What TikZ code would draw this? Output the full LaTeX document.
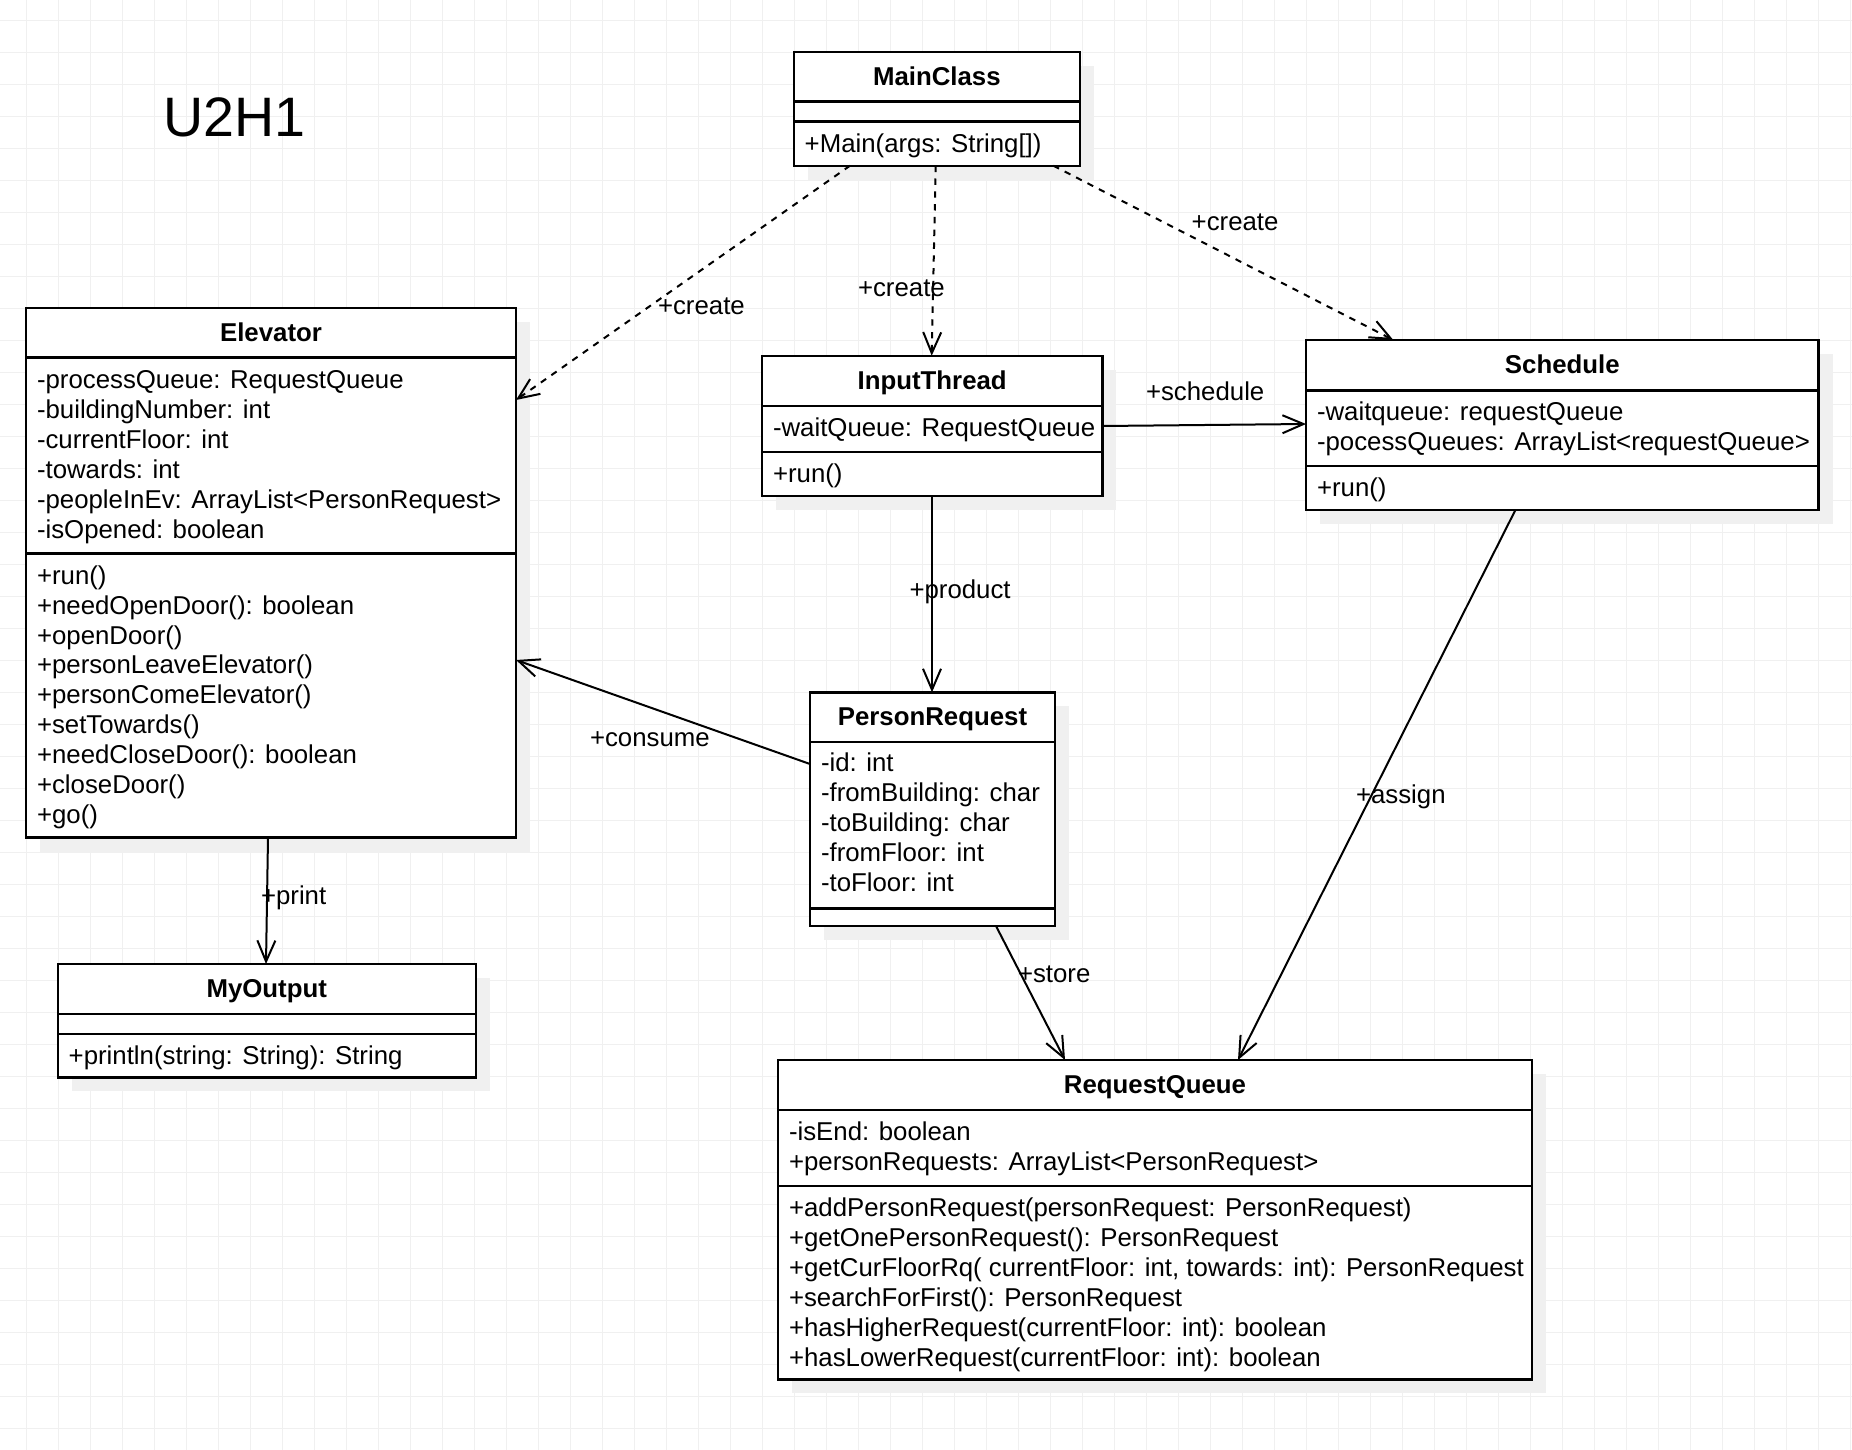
\documentclass[tikz,border=0pt]{standalone}
\usepackage{fontspec}
\setmainfont{Liberation Sans}
\usetikzlibrary{arrows.meta,calc,fit,shadows}

\begin{document}
\begin{tikzpicture}[x=0.5pt,y=-0.5pt,
  base/.style={font=\fontsize{12.9pt}{15pt}\selectfont, inner sep=0pt, outer sep=0pt},
  classbox/.style={draw=black, line width=1.2pt, fill=white, inner sep=0pt, outer sep=0pt,
    drop shadow={shadow xshift=7pt, shadow yshift=-7pt, fill=black!6, opacity=1}},
  sepline/.style={line width=1.2pt},
  hdr/.style={base, font=\fontsize{12.9pt}{15pt}\selectfont\bfseries, anchor=base},
  row/.style={base, anchor=base west},
  lbl/.style={base, anchor=base west},
  conn/.style={line width=1pt, -{Straight Barb[length=10.5pt, width=9pt, line width=1pt]}},
  dep/.style={conn, dash pattern=on 3.2pt off 3.2pt},
  gridline/.style={line width=0.6pt, black!6}
]
% canvas
\fill[white] (0,0) rectangle (1852,1450);
\useasboundingbox (0,0) rectangle (1852,1450);
\foreach \i in {0,...,57} \draw[gridline] ({26.8+32*\i},0) -- ++(0,1450);
\foreach \j in {0,...,44} \draw[gridline] (0,{20.5+32*\j}) -- ++(1852,0);

% title
\node[base, anchor=base west, font=\fontsize{27.8pt}{32pt}\selectfont] (title) at (163.5,137) {U2H1};

% class boxes
\node[classbox, fit={(793.7,52) (1080,165.7)}] (main) {};
\node[classbox, fit={(26,308) (516,837.5)}] (elev) {};
\node[classbox, fit={(762,355.7) (1102.3,495.7)}] (input) {};
\node[classbox, fit={(1306,340) (1818.6,510)}] (sched) {};
\node[classbox, fit={(810,692.3) (1055,926)}] (person) {};
\node[classbox, fit={(778,1060) (1532,1379.3)}] (rq) {};
\node[classbox, fit={(57.7,964) (475.7,1077.3)}] (myout) {};

% separators
\draw[sepline] ($(main.north west)+(0,49.7)$) -- ($(main.north east)+(0,49.7)$);
\draw[sepline] ($(main.north west)+(0,69.7)$) -- ($(main.north east)+(0,69.7)$);
\draw[sepline] ($(elev.north west)+(0,49.5)$) -- ($(elev.north east)+(0,49.5)$);
\draw[sepline] ($(elev.north west)+(0,245.6)$) -- ($(elev.north east)+(0,245.6)$);
\draw[sepline] ($(input.north west)+(0,50)$) -- ($(input.north east)+(0,50)$);
\draw[sepline] ($(input.north west)+(0,96)$) -- ($(input.north east)+(0,96)$);
\draw[sepline] ($(sched.north west)+(0,50.3)$) -- ($(sched.north east)+(0,50.3)$);
\draw[sepline] ($(sched.north west)+(0,126)$) -- ($(sched.north east)+(0,126)$);
\draw[sepline] ($(person.north west)+(0,49.4)$) -- ($(person.north east)+(0,49.4)$);
\draw[sepline] ($(person.north west)+(0,216)$) -- ($(person.north east)+(0,216)$);
\draw[sepline] ($(rq.north west)+(0,50)$) -- ($(rq.north east)+(0,50)$);
\draw[sepline] ($(rq.north west)+(0,125.7)$) -- ($(rq.north east)+(0,125.7)$);
\draw[sepline] ($(myout.north west)+(0,49.7)$) -- ($(myout.north east)+(0,49.7)$);
\draw[sepline] ($(myout.north west)+(0,70)$) -- ($(myout.north east)+(0,70)$);

% headers
\node[hdr] (mainT) at ($(main.north)+(0,33.4)$) {MainClass};
\node[hdr] (elevT) at ($(elev.north)+(0,33.4)$) {Elevator};
\node[hdr] (inputT) at ($(input.north)+(0,33.4)$) {InputThread};
\node[hdr] (schedT) at ($(sched.north)+(0,33.4)$) {Schedule};
\node[hdr] (personT) at ($(person.north)+(0,33.4)$) {PersonRequest};
\node[hdr] (rqT) at ($(rq.north)+(0,33.4)$) {RequestQueue};
\node[hdr] (myoutT) at ($(myout.north)+(0,33.4)$) {MyOutput};

% MainClass
\node[row] (mainM0) at (804.7,152.2) {+Main(args: String[])};

% Elevator
\foreach \t [count=\i from 0] in {{-processQueue: RequestQueue},{-buildingNumber: int},{-currentFloor: int},{-towards: int},{-peopleInEv: ArrayList<PersonRequest>},{-isOpened: boolean}}
  \node[row] (elevA\i) at (37,{388+30*\i}) {\t};
\foreach \t [count=\i from 0] in {{+run()},{+needOpenDoor(): boolean},{+openDoor()},{+personLeaveElevator()},{+personComeElevator()},{+setTowards()},{+needCloseDoor(): boolean},{+closeDoor()},{+go()}}
  \node[row] (elevM\i) at (37,{584.1+29.95*\i}) {\t};

% InputThread
\node[row] (inputA0) at (773,436.2) {-waitQueue: RequestQueue};
\node[row] (inputM0) at (773,482.2) {+run()};

% Schedule
\node[row] (schedA0) at (1317,420.8) {-waitqueue: requestQueue};
\node[row] (schedA1) at (1317,450.8) {-pocessQueues: ArrayList<requestQueue>};
\node[row] (schedM0) at (1317,496.5) {+run()};

% PersonRequest
\foreach \t [count=\i from 0] in {{-id: int},{-fromBuilding: char},{-toBuilding: char},{-fromFloor: int},{-toFloor: int}}
  \node[row] (personA\i) at (821,{771.5+30*\i}) {\t};

% RequestQueue
\node[row] (rqA0) at (789,1140.5) {-isEnd: boolean};
\node[row] (rqA1) at (789,1170.5) {+personRequests: ArrayList<PersonRequest>};
\foreach \t [count=\i from 0] in {{+addPersonRequest(personRequest: PersonRequest)},{+getOnePersonRequest(): PersonRequest},{+getCurFloorRq( currentFloor: int, towards: int): PersonRequest},{+searchForFirst(): PersonRequest},{+hasHigherRequest(currentFloor: int): boolean},{+hasLowerRequest(currentFloor: int): boolean}}
  \node[row] (rqM\i) at (789,{1216.2+30*\i}) {\t};

% MyOutput
\node[row] (myoutM0) at (68.7,1064.5) {+println(string: String): String};

% connectors
\draw[dep] ($(main.south west)+(56.3,0)$) -- ($(elev.north east)+(0,92)$);
\draw[dep] ($(main.south west)+(142,0)$) -- ($(input.north west)+(169.7,0)$);
\draw[dep] ($(main.south west)+(259.6,0)$) -- ($(sched.north west)+(87.3,0)$);
\draw[conn] ($(input.north east)+(0,70.3)$) -- ($(sched.north west)+(0,84)$);
\draw[conn] ($(input.south west)+(170,0)$) -- ($(person.north west)+(122,0)$);
\draw[conn] ($(person.north west)+(0,71.7)$) -- ($(elev.north east)+(0,352)$);
\draw[conn] ($(elev.south west)+(242,0)$) -- ($(myout.north west)+(208.3,0)$);
\draw[conn] ($(person.south west)+(186,0)$) -- ($(rq.north west)+(287,0)$);
\draw[conn] ($(sched.south west)+(209.4,0)$) -- ($(rq.north west)+(460,0)$);

% labels
\node[lbl] (lc1) at (658,314.5) {+create};
\node[lbl] (lc2) at (858,296.7) {+create};
\node[lbl] (lc3) at (1191.7,230.7) {+create};
\node[lbl] (lsch) at (1146,400.7) {+schedule};
\node[lbl] (lcon) at (590,746.7) {+consume};
\node[lbl] (lprod) at (909.5,598.6) {+product};
\node[lbl] (lprint) at (261,904.5) {+print};
\node[lbl] (lstore) at (1018,982.4) {+store};
\node[lbl] (lassign) at (1356,803) {+assign};
\end{tikzpicture}
\end{document}
